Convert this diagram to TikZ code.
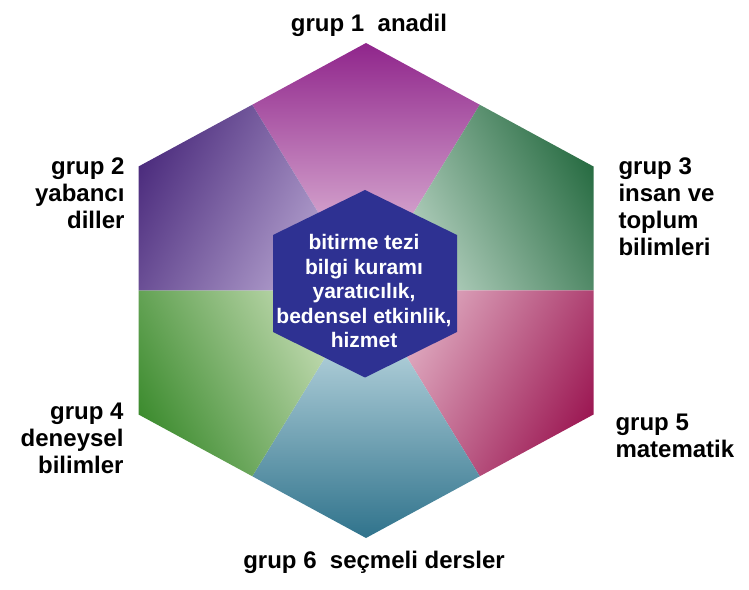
\documentclass[tikz,border=0pt]{standalone}
\usepackage{fontspec}
\setmainfont{Liberation Sans}
\usetikzlibrary{calc}
\definecolor{gbirA}{HTML}{8A1B86}
\definecolor{gbirB}{HTML}{EED3E6}
\definecolor{gikiA}{HTML}{4A2A7C}
\definecolor{gikiB}{HTML}{D2C4E6}
\definecolor{gucA}{HTML}{256A40}
\definecolor{gucB}{HTML}{E2F1E8}
\definecolor{gdortA}{HTML}{3A8A2C}
\definecolor{gdortB}{HTML}{E8F1D6}
\definecolor{gbesA}{HTML}{9A1450}
\definecolor{gbesB}{HTML}{F4D8E2}
\definecolor{galtiA}{HTML}{266C86}
\definecolor{galtiB}{HTML}{D6EAF0}
\definecolor{ortamavi}{HTML}{2E3192}
\newcommand\dilim[6]{%
\begin{scope}
\clip (O) -- (#1) -- (#2) -- (#3) -- cycle;
\shade [transform canvas={shift={(O)},rotate=#4},top color=#5,bottom color=#6] (-300,0) rectangle (300,262);
\end{scope}}
\begin{document}
\begin{tikzpicture}[x=1pt,y=1pt,
  grup/.style={font=\fontsize{24}{27}\selectfont\bfseries},
  orta/.style={font=\fontsize{21}{24.5}\selectfont\bfseries,text=white,align=center}]
\useasboundingbox (0,0) rectangle (749,589);
\coordinate (O) at (366,298.5);
\coordinate (a) at (366,546);
\coordinate (b) at (593.5,422.5);
\coordinate (c) at (593.5,174.5);
\coordinate (d) at (366,51);
\coordinate (e) at (138.5,174.5);
\coordinate (f) at (138.5,422.5);
\coordinate (ab) at ($(a)!.5!(b)$);
\coordinate (bc) at ($(b)!.5!(c)$);
\coordinate (cd) at ($(c)!.5!(d)$);
\coordinate (de) at ($(d)!.5!(e)$);
\coordinate (ef) at ($(e)!.5!(f)$);
\coordinate (fa) at ($(f)!.5!(a)$);
\dilim{fa}{a}{ab}{0}{gbirA}{gbirB}
\dilim{ab}{b}{bc}{-61.4}{gucA}{gucB}
\dilim{bc}{c}{cd}{-118.6}{gbesA}{gbesB}
\dilim{cd}{d}{de}{180}{galtiA}{galtiB}
\dilim{de}{e}{ef}{118.6}{gdortA}{gdortB}
\dilim{ef}{f}{fa}{61.4}{gikiA}{gikiB}
\fill [ortamavi] (365,399) -- (457,354) -- (457,257) -- (365,211.5) -- (273,257) -- (273,354) -- cycle;
\node [orta,anchor=base] (core) at (364,241) {bitirme tezi\\bilgi kuramı\\yaratıcılık,\\bedensel etkinlik,\\hizmet};
\node [grup,anchor=base] (g1) at (369,557) {grup 1\ \ anadil};
\node [grup,anchor=base east,align=right] (g2) at (128,360) {grup 2\\yabancı\\diller};
\node [grup,anchor=base west,align=left] (g3) at (615,333) {grup 3\\insan ve\\toplum\\bilimleri};
\node [grup,anchor=base east,align=right] (g4) at (127,115) {grup 4\\deneysel\\bilimler};
\node [grup,anchor=base west,align=left] (g5) at (612,131) {grup 5\\matematik};
\node [grup,anchor=base] (g6) at (374,21) {grup 6\ \ seçmeli dersler};
\end{tikzpicture}
\end{document}
